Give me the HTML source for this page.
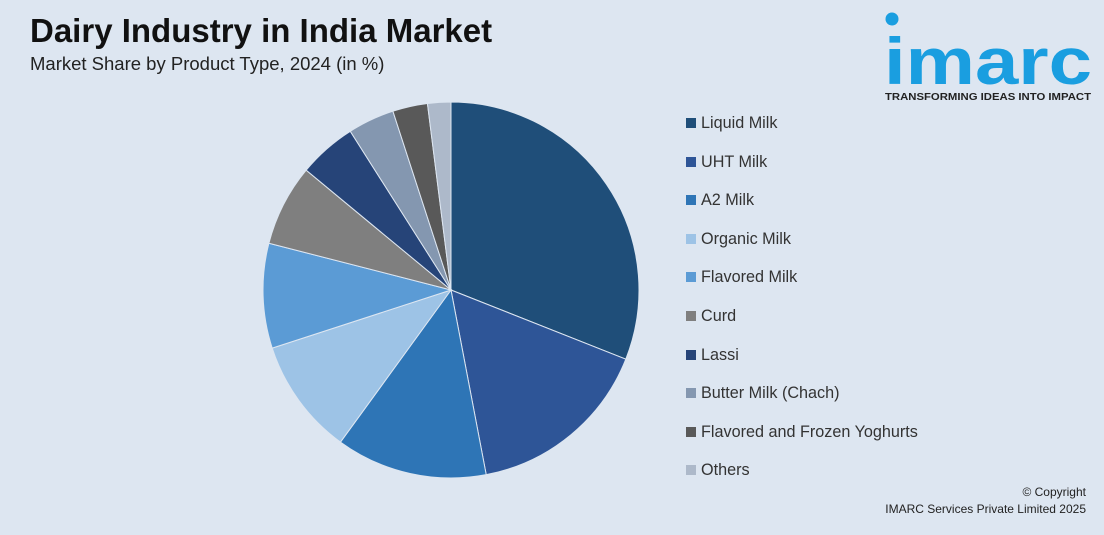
<!DOCTYPE html>
<html><head><meta charset="utf-8"><style>
body{margin:0;width:1104px;height:535px;background:#dde6f1;font-family:"Liberation Sans",sans-serif;overflow:hidden;position:relative}
.t{position:absolute;left:30px;top:12px;font-size:33px;font-weight:bold;color:#111}
.s{position:absolute;left:30px;top:53px;font-size:18.5px;color:#222}
.logo{position:absolute;left:884px;top:10px}
.leg{position:absolute;left:686px;font-size:16.2px;color:#333}
.leg i{display:inline-block;width:10px;height:10px;margin-right:5px;vertical-align:0px}
.cp{position:absolute;right:18px;top:484px;font-size:12px;color:#222;text-align:right;line-height:17px}
</style></head><body>
<div class="t">Dairy Industry in India Market</div>
<div class="s">Market Share by Product Type, 2024 (in %)</div>
<div class="logo">
<svg width="215" height="95"><circle cx="8" cy="9" r="6.5" fill="#1a9ee0"/><text x="0" y="74" font-size="66" font-weight="bold" fill="#1a9ee0" font-family="Liberation Sans" textLength="208" lengthAdjust="spacingAndGlyphs">imarc</text><text x="1" y="90" font-size="10.5" font-weight="bold" fill="#222" font-family="Liberation Sans" textLength="206" lengthAdjust="spacingAndGlyphs">TRANSFORMING IDEAS INTO IMPACT</text></svg></div>
<svg id="pie" width="1104" height="535" style="position:absolute;left:0;top:0"></svg>
<div id="legend"></div>
<div class="cp">© Copyright<br>IMARC Services Private Limited 2025</div>
<script>
const categories=["Liquid Milk","UHT Milk","A2 Milk","Organic Milk","Flavored Milk","Curd","Lassi","Butter Milk (Chach)","Flavored and Frozen Yoghurts","Others"];
const values=[31,16,13,10,9,7,5,4,3,2];
const colors=["#1f4e79","#2e5597","#2e75b6","#9dc3e6","#5b9bd5","#7f7f7f","#264478","#8497b0","#595959","#adb9ca"];
const svg=document.getElementById('pie');
const cx=451,cy=290,r=188;
const total=values.reduce((a,b)=>a+b,0);
let a0=0;
function pt(a){return [cx+r*Math.sin(a),cy-r*Math.cos(a)];}
values.forEach((v,i)=>{
const a1=a0+v/total*2*Math.PI;
const p0=pt(a0),p1=pt(a1);
const p=document.createElementNS('http://www.w3.org/2000/svg','path');
p.setAttribute('d',`M${cx},${cy}L${p0[0]},${p0[1]}A${r},${r} 0 ${a1-a0>Math.PI?1:0} 1 ${p1[0]},${p1[1]}Z`);
p.setAttribute('fill',colors[i]);
p.setAttribute('stroke','#dde6f1');p.setAttribute('stroke-width','1');


svg.appendChild(p);
a0=a1;
});
const lg=document.getElementById('legend');
categories.forEach((c,i)=>{
const d=document.createElement('div');
d.className='leg';d.style.top=(114+i*38.6)+'px';
d.innerHTML=`<i style="background:${colors[i]}"></i>${c}`;


lg.appendChild(d);
});
</script>
</body></html>
